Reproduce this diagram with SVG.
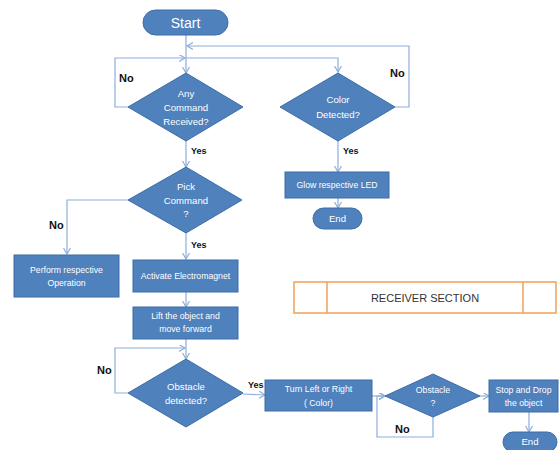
<svg xmlns="http://www.w3.org/2000/svg" width="560" height="450" viewBox="0 0 560 450">
<defs>
<marker id="arr" markerUnits="userSpaceOnUse" markerWidth="8" markerHeight="8" refX="6" refY="3.5" orient="auto">
<path d="M0,0 L6,3.5 L0,7" fill="none" stroke="#8eaedb" stroke-width="1.2"/>
</marker>
</defs>
<style>
.sh{fill:#4f81bd;stroke:#3d6da6;stroke-width:1}
.t{fill:#ffffff;font-family:"Liberation Sans",Arial,sans-serif;font-size:8.7px;text-anchor:middle}
.d{font-size:9.6px}
.c{fill:none;stroke:#8eaedb;stroke-width:1.2;marker-end:url(#arr)}
.no{font-family:"Liberation Sans",Arial,sans-serif;font-weight:bold;font-size:11px;fill:#111}
.yes{font-family:"Liberation Sans",Arial,sans-serif;font-weight:bold;font-size:9px;fill:#111}
</style>
<rect width="560" height="450" fill="#ffffff"/>
<g id="connectors">
<path class="c" d="M186,35 V73"/>
<path class="c" d="M395,107 H409 V46 H187"/>
<path class="c" d="M128,107 H115 V58 H185"/>
<path class="c" d="M186,58 H338 V72"/>
<path class="c" d="M186,140 V167"/>
<path class="c" d="M128,200 H67 V254"/>
<path class="c" d="M186,233 V259"/>
<path class="c" d="M186,292 V307"/>
<path class="c" d="M186,339 V359"/>
<path class="c" d="M128,393 H115 V348 H185"/>
<path class="c" d="M243,394 L265,395"/>
<path class="c" d="M372,396 H385"/>
<path class="c" d="M433,417 V437 H377 V396 H385"/>
<path class="c" d="M480,396 H489"/>
<path class="c" d="M529,412 V432"/>
<path class="c" d="M338,140 V172"/>
<path class="c" d="M338,198 V208"/>
<text class="no" x="119" y="82">No</text>
<text class="no" x="390" y="77">No</text>
<text class="yes" x="191" y="154">Yes</text>
<text class="no" x="49" y="229">No</text>
<text class="yes" x="191" y="248">Yes</text>
<text class="yes" x="343" y="154">Yes</text>
<text class="no" x="97" y="374">No</text>
<text class="yes" x="248" y="388">Yes</text>
<text class="no" x="395" y="433">No</text>
</g>
<g id="start">
<rect class="sh" x="143" y="10" width="85" height="25" rx="12.5"/>
<text class="t" x="185.5" y="27.5" style="font-size:14px">Start</text>
</g>
<g id="any-command">
<polygon class="sh" points="186,73 243,107 186,141 128,107"/>
<text class="t d" x="186" y="97">Any</text>
<text class="t d" x="186" y="111">Command</text>
<text class="t d" x="186" y="125">Received?</text>
</g>
<g id="color-detected">
<polygon class="sh" points="338,73 395,107 338,141 280,107"/>
<text class="t d" x="338" y="103">Color</text>
<text class="t d" x="338" y="118">Detected?</text>
</g>
<g id="glow-led">
<rect class="sh" x="285" y="172" width="104" height="26"/>
<text class="t" x="337" y="188">Glow respective LED</text>
</g>
<g id="end1">
<rect class="sh" x="313" y="208" width="49" height="21" rx="10.5"/>
<text class="t d" x="337.5" y="222">End</text>
</g>
<g id="pick-command">
<polygon class="sh" points="186,167 242,200 186,233 128,200"/>
<text class="t d" x="186" y="190">Pick</text>
<text class="t d" x="186" y="203.5">Command</text>
<text class="t d" x="186" y="217">?</text>
</g>
<g id="perform-operation">
<rect class="sh" x="14" y="255" width="105" height="42"/>
<text class="t" x="66.5" y="273">Perform respective</text>
<text class="t" x="66.5" y="286">Operation</text>
</g>
<g id="activate-electromagnet">
<rect class="sh" x="133" y="260" width="105" height="32"/>
<text class="t" x="185.5" y="279">Activate Electromagnet</text>
</g>
<g id="lift-object">
<rect class="sh" x="133" y="307" width="105" height="32"/>
<text class="t" x="185.5" y="319">Lift the object and</text>
<text class="t" x="185.5" y="332">move forward</text>
</g>
<g id="obstacle-detected">
<polygon class="sh" points="186,359 243,393 186,427 128,393"/>
<text class="t d" x="186" y="390">Obstacle</text>
<text class="t d" x="186" y="404">detected?</text>
</g>
<g id="turn">
<rect class="sh" x="265" y="380" width="107" height="31"/>
<text class="t" x="318.5" y="392">Turn Left or Right</text>
<text class="t" x="318.5" y="406">( Color)</text>
</g>
<g id="obstacle2">
<polygon class="sh" points="433,374 480,396 433,417 385,396"/>
<text class="t" x="433" y="393">Obstacle</text>
<text class="t" x="433" y="406">?</text>
</g>
<g id="stop-drop">
<rect class="sh" x="489" y="380" width="69" height="32"/>
<text class="t" x="523.5" y="393">Stop and Drop</text>
<text class="t" x="523.5" y="406">the object</text>
</g>
<g id="end2">
<rect class="sh" x="503" y="432" width="54" height="20" rx="10"/>
<text class="t d" x="530" y="445">End</text>
</g>
<g id="receiver-section">
<rect x="294" y="282" width="262" height="31" fill="#ffffff" stroke="#f0a05a" stroke-width="1.5"/>
<line x1="327" y1="282" x2="327" y2="313" stroke="#f0a05a" stroke-width="1.5"/>
<line x1="523" y1="282" x2="523" y2="313" stroke="#f0a05a" stroke-width="1.5"/>
<text x="425" y="302" text-anchor="middle" font-family="'Liberation Sans',Arial,sans-serif" font-size="11px" fill="#333333">RECEIVER SECTION</text>
</g>
</svg>
